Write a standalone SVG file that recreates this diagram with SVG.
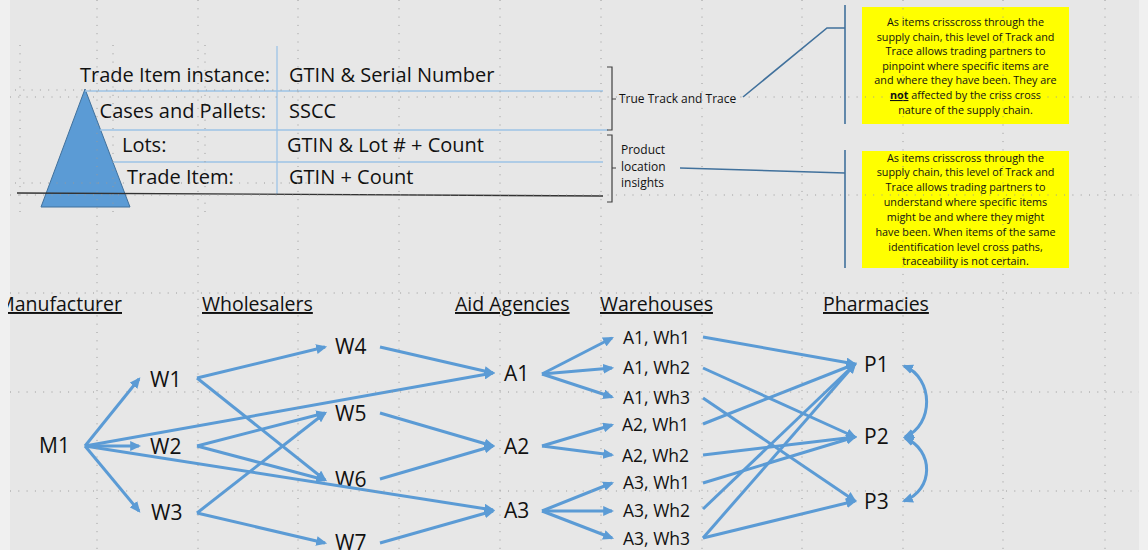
<svg xmlns="http://www.w3.org/2000/svg" width="1148" height="550" viewBox="0 0 1148 550">
<defs>
<style>
.t{font-family:"Open Sans","Liberation Sans",sans-serif;fill:#111}
.row{font-size:20px}
.hdr{font-size:19.5px;text-decoration:underline}
.node{font-size:21px}
.wh{font-size:17.5px}
.note{font-size:10.8px;text-anchor:middle}
.small{font-size:12px}
.grid{stroke:#9a9a9a;stroke-width:1;stroke-dasharray:1 7.3;fill:none}
.tbl{stroke:#9dc3e6;stroke-width:1.3;fill:none}
.brk{stroke:#404040;stroke-width:1.2;fill:none}
.lead{stroke:#41719c;stroke-width:1.6;fill:none}
.ed{stroke:#5b9bd5;stroke-width:3;fill:none;marker-end:url(#ah)}
.dbl{stroke:#5b9bd5;stroke-width:3;fill:none;marker-end:url(#ah);marker-start:url(#ah)}
</style>
<marker id="ah" viewBox="0 0 10 9" markerUnits="userSpaceOnUse" markerWidth="11" markerHeight="10" refX="8" refY="4.5" orient="auto-start-reverse">
<path d="M0,0 L10,4.5 L0,9 z" fill="#5b9bd5"/>
</marker>
<clipPath id="slide"><rect x="8" y="0" width="1131" height="550"/></clipPath>
</defs>

<rect x="0" y="0" width="1148" height="550" fill="#f0f0f0"/>
<rect x="10" y="0" width="1129" height="550" fill="#e7e7e7"/>

<g id="pyramid">
<polygon points="85,89 41,207 130,207" fill="#5b9bd5" stroke="#41719c" stroke-width="1"/>
</g>

<g id="table">
<line class="tbl" x1="85" y1="91" x2="603" y2="91"/>
<line class="tbl" x1="100" y1="130" x2="608" y2="130"/>
<line class="tbl" x1="113" y1="162" x2="603" y2="162"/>
<line class="tbl" x1="277" y1="46" x2="277" y2="194"/>
<line x1="17" y1="193" x2="603" y2="196" stroke="#333" stroke-width="1.3"/>
<text class="t row" x="270" y="82" text-anchor="end">Trade Item instance:</text>
<text class="t row" x="289" y="82">GTIN &amp; Serial Number</text>
<text class="t row" x="266" y="118" text-anchor="end">Cases and Pallets:</text>
<text class="t row" x="289" y="118">SSCC</text>
<text class="t row" x="122" y="152">Lots:</text>
<text class="t row" x="287" y="152">GTIN &amp; Lot # + Count</text>
<text class="t row" x="127" y="184">Trade Item:</text>
<text class="t row" x="289" y="184">GTIN + Count</text>
</g>

<g id="bracket-true">
<path class="brk" d="M607,67 H612 V130 H607 M612,99 H616"/>
<text class="t small" x="619" y="103">True Track and Trace</text>
</g>
<g id="bracket-product">
<path class="brk" d="M607,135 H612 V202 H607 M612,168 H616"/>
<text class="t small" x="621" y="154">Product</text>
<text class="t small" x="621" y="171">location</text>
<text class="t small" x="621" y="187">insights</text>
</g>

<g id="callouts">
<path class="lead" d="M743,97 L827,28 L845,28"/>
<line class="lead" x1="845" y1="5" x2="845" y2="124"/>
<path class="lead" d="M680,168 L845,173"/>
<line class="lead" x1="845" y1="150" x2="845" y2="268"/>
</g>

<g id="note1">
<rect x="862" y="7" width="207" height="117" fill="#ffff00"/>
<text class="t note" x="965.5" y="26">As items crisscross through the</text>
<text class="t note" x="965.5" y="40.5">supply chain, this level of Track and</text>
<text class="t note" x="965.5" y="55">Trace allows trading partners to</text>
<text class="t note" x="965.5" y="69.5">pinpoint where specific items are</text>
<text class="t note" x="965.5" y="84">and where they have been. They are</text>
<text class="t note" x="965.5" y="99"><tspan font-weight="bold" text-decoration="underline">not</tspan> affected by the criss cross</text>
<text class="t note" x="965.5" y="113.5">nature of the supply chain.</text>
</g>

<g id="note2">
<rect x="862" y="151" width="207" height="117" fill="#ffff00"/>
<text class="t note" x="965.5" y="161.5">As items crisscross through the</text>
<text class="t note" x="965.5" y="176">supply chain, this level of Track and</text>
<text class="t note" x="965.5" y="191">Trace allows trading partners to</text>
<text class="t note" x="965.5" y="206">understand where specific items</text>
<text class="t note" x="965.5" y="221">might be and where they might</text>
<text class="t note" x="965.5" y="236">have been. When items of the same</text>
<text class="t note" x="965.5" y="251">identification level cross paths,</text>
<text class="t note" x="965.5" y="265">traceability is not certain.</text>
</g>

<g id="headers">
<text class="t hdr" x="122" y="311" text-anchor="end" clip-path="url(#slide)">Manufacturer</text>
<text class="t hdr" x="202" y="311">Wholesalers</text>
<text class="t hdr" x="455" y="311">Aid Agencies</text>
<text class="t hdr" x="600" y="311">Warehouses</text>
<text class="t hdr" x="823" y="311">Pharmacies</text>
</g>

<g id="M1"><text class="t node" x="39" y="453">M1</text></g>
<g id="W1"><text class="t node" x="150" y="387">W1</text></g>
<g id="W2"><text class="t node" x="150" y="454">W2</text></g>
<g id="W3"><text class="t node" x="151" y="520">W3</text></g>
<g id="W4"><text class="t node" x="335" y="354">W4</text></g>
<g id="W5"><text class="t node" x="335" y="421">W5</text></g>
<g id="W6"><text class="t node" x="335" y="487">W6</text></g>
<g id="W7"><text class="t node" x="335" y="550">W7</text></g>
<g id="A1"><text class="t node" x="504" y="381">A1</text></g>
<g id="A2"><text class="t node" x="504" y="454">A2</text></g>
<g id="A3"><text class="t node" x="504" y="518">A3</text></g>
<g id="A1Wh1"><text class="t wh" x="623" y="344">A1, Wh1</text></g>
<g id="A1Wh2"><text class="t wh" x="623" y="374">A1, Wh2</text></g>
<g id="A1Wh3"><text class="t wh" x="623" y="404">A1, Wh3</text></g>
<g id="A2Wh1"><text class="t wh" x="622" y="431">A2, Wh1</text></g>
<g id="A2Wh2"><text class="t wh" x="622" y="462">A2, Wh2</text></g>
<g id="A3Wh1"><text class="t wh" x="623" y="489">A3, Wh1</text></g>
<g id="A3Wh2"><text class="t wh" x="623" y="517">A3, Wh2</text></g>
<g id="A3Wh3"><text class="t wh" x="623" y="545">A3, Wh3</text></g>
<g id="P1"><text class="t node" x="864" y="372">P1</text></g>
<g id="P2"><text class="t node" x="864" y="444">P2</text></g>
<g id="P3"><text class="t node" x="864" y="509">P3</text></g>

<g id="connectors">
<path class="ed" d="M85,446 L139,379"/>
<path class="ed" d="M85,446 L139,446"/>
<path class="ed" d="M85,446 L139,511"/>
<path class="ed" d="M85,446 L493,373"/>
<path class="ed" d="M85,446 L493,510"/>
<path class="ed" d="M197,378 L325,347"/>
<path class="ed" d="M197,378 L325,480"/>
<path class="ed" d="M197,446 L325,413"/>
<path class="ed" d="M197,446 L325,480"/>
<path class="ed" d="M197,513 L325,413"/>
<path class="ed" d="M197,513 L325,543"/>
<path class="ed" d="M380,347 L493,373"/>
<path class="ed" d="M380,413 L493,446"/>
<path class="ed" d="M380,479 L493,446"/>
<path class="ed" d="M380,543 L493,511"/>
<path class="ed" d="M542,374 L612,338"/>
<path class="ed" d="M542,374 L612,368"/>
<path class="ed" d="M542,374 L612,397"/>
<path class="ed" d="M542,446 L612,425"/>
<path class="ed" d="M542,446 L612,455"/>
<path class="ed" d="M542,511 L612,483"/>
<path class="ed" d="M542,511 L612,511"/>
<path class="ed" d="M542,511 L612,538"/>
<path class="ed" d="M703,337 L855,364"/>
<path class="ed" d="M703,368 L855,437"/>
<path class="ed" d="M703,398 L855,501"/>
<path class="ed" d="M703,424 L855,364"/>
<path class="ed" d="M703,455 L855,437"/>
<path class="ed" d="M703,483 L855,437"/>
<path class="ed" d="M703,509 L855,364"/>
<path class="ed" d="M703,538 L855,364"/>
<path class="ed" d="M703,538 L855,501"/>
<path class="dbl" d="M904,366 C934,378 934,425 905,437"/>
<path class="dbl" d="M905,438 C934,450 934,490 904,501"/>
</g>

<g id="guides">
<path class="grid" d="M10,97 H1139 M10,195 H1139 M10,293 H1139 M10,392 H1139 M10,491 H1139"/>
<path class="grid" d="M97,0 V550 M198,0 V550 M298,0 V550 M399,0 V550 M500,0 V550 M601,0 V550 M702,0 V550 M802,0 V550 M903,0 V550 M1003,0 V550 M1105,0 V550"/>
<path class="grid" d="M20,45 V215 M113,45 V215 M205,45 V215 M15,90 H300 M15,183 H320"/>
</g>
</svg>
